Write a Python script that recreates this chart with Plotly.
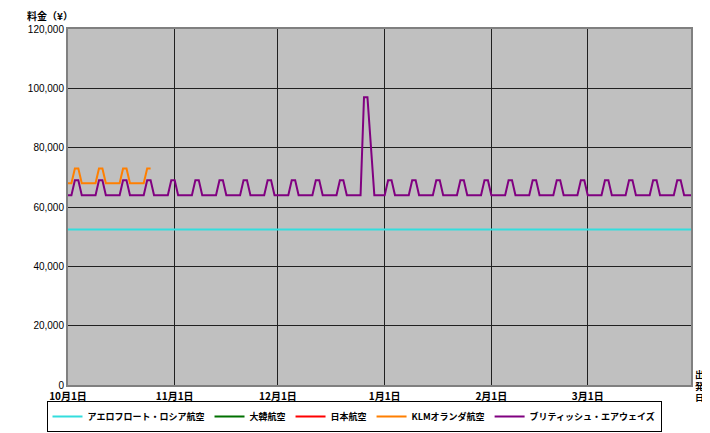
import plotly.graph_objects as go
import pandas as pd

# ---- data (daily fares, 2008-10-01 .. 2009-03-31) ----
start_date = "2008-10-01"
month_ticks = ["2008-10-01", "2008-11-01", "2008-12-01", "2009-01-01", "2009-02-01", "2009-03-01"]
month_labels = ["10月1日", "11月1日", "12月1日", "1月1日", "2月1日", "3月1日"]
y_ticks = [0, 20000, 40000, 60000, 80000, 100000, 120000]
y_labels = ["0", "20,000", "40,000", "60,000", "80,000", "100,000", "120,000"]

# アエロフロート・ロシア航空: flat fare
aeroflot = [52400] * 182

# 大韓航空 / 日本航空: no visible data
korean = [None]
jal = [None]

# KLMオランダ航空 (Oct 1 .. Oct 25)
klm = [
    68000, 68000, 73000, 73000, 68000, 68000, 68000,
    68000, 68000, 73000, 73000, 68000, 68000, 68000,
    68000, 68000, 73000, 73000, 68000, 68000, 68000,
    68000, 68000, 73000, 73000,
]

# ブリティッシュ・エアウェイズ (Oct 1 .. Mar 31), one row per week starting Wednesday
british = [
    64000, 64000, 69000, 69000, 64000, 64000, 64000,  # Oct 1
    64000, 64000, 69000, 69000, 64000, 64000, 64000,  # Oct 8
    64000, 64000, 69000, 69000, 64000, 64000, 64000,  # Oct 15
    64000, 64000, 69000, 69000, 64000, 64000, 64000,  # Oct 22
    64000, 64000, 69000, 69000, 64000, 64000, 64000,  # Oct 29
    64000, 64000, 69000, 69000, 64000, 64000, 64000,  # Nov 5
    64000, 64000, 69000, 69000, 64000, 64000, 64000,  # Nov 12
    64000, 64000, 69000, 69000, 64000, 64000, 64000,  # Nov 19
    64000, 64000, 69000, 69000, 64000, 64000, 64000,  # Nov 26
    64000, 64000, 69000, 69000, 64000, 64000, 64000,  # Dec 3
    64000, 64000, 69000, 69000, 64000, 64000, 64000,  # Dec 10
    64000, 64000, 69000, 69000, 64000, 64000, 64000,  # Dec 17
    64000, 64000, 97000, 97000, 80500, 64000, 64000,  # Dec 24
    64000, 64000, 69000, 69000, 64000, 64000, 64000,  # Dec 31
    64000, 64000, 69000, 69000, 64000, 64000, 64000,  # Jan 7
    64000, 64000, 69000, 69000, 64000, 64000, 64000,  # Jan 14
    64000, 64000, 69000, 69000, 64000, 64000, 64000,  # Jan 21
    64000, 64000, 69000, 69000, 64000, 64000, 64000,  # Jan 28
    64000, 64000, 69000, 69000, 64000, 64000, 64000,  # Feb 4
    64000, 64000, 69000, 69000, 64000, 64000, 64000,  # Feb 11
    64000, 64000, 69000, 69000, 64000, 64000, 64000,  # Feb 18
    64000, 64000, 69000, 69000, 64000, 64000, 64000,  # Feb 25
    64000, 64000, 69000, 69000, 64000, 64000, 64000,  # Mar 4
    64000, 64000, 69000, 69000, 64000, 64000, 64000,  # Mar 11
    64000, 64000, 69000, 69000, 64000, 64000, 64000,  # Mar 18
    64000, 64000, 69000, 69000, 64000, 64000, 64000,  # Mar 25
]

series_names = ["アエロフロート・ロシア航空", "大韓航空", "日本航空", "KLMオランダ航空", "ブリティッシュ・エアウェイズ"]
series_values = [aeroflot, korean, jal, klm, british]
series_colors = ["#33DDDD", "#007000", "#FF0000", "#FF7F00", "#800080"]

FONT = "Liberation Sans, Noto Sans CJK JP, sans-serif"
JFONT = "Noto Sans CJK JP, sans-serif"

# the page body has an 8px margin; size the figure so it fits the 710x433 window
W, H = 702, 425
OFF = 8
PL, PT, PR, PB = 68, 29, 691, 385  # plot area in window pixels
plot_w = PR - PL
plot_h = PB - PT

fig = go.Figure()
for name, vals, col in zip(series_names, series_values, series_colors):
    dates = pd.date_range(start_date, periods=len(vals), freq="D")
    fig.add_trace(go.Scatter(
        x=dates, y=vals, name="<b>%s</b>" % name, mode="lines",
        line=dict(color=col, width=2),
        showlegend=True,
    ))

fig.update_layout(
    width=W, height=H,
    margin=dict(l=PL - OFF, r=W - (PR - OFF), t=PT - OFF, b=H - (PB - OFF), autoexpand=False),
    paper_bgcolor="white",
    plot_bgcolor="#C0C0C0",
    font=dict(family=FONT, size=10, color="black"),
    legend=dict(
        orientation="h", xref="container", yref="container",
        x=(354 - OFF) / W, xanchor="center", y=1 - (432 - OFF) / H, yanchor="bottom",
        bordercolor="black", borderwidth=1, bgcolor="white",
        font=dict(family=JFONT, size=9, color="black"),
        itemwidth=30, tracegroupgap=0,
    ),
    xaxis=dict(
        type="date", automargin=False,
        range=["2008-10-01", "2009-03-31"],
        tickvals=month_ticks,
        ticktext=["<b>%s</b>" % t for t in month_labels],
        showgrid=True, gridcolor="#202020", gridwidth=1,
        showline=True, linecolor="#808080", linewidth=2, mirror=True,
        ticks="", zeroline=False, ticklabelstandoff=1,
        tickfont=dict(family=JFONT, size=10),
    ),
    yaxis=dict(
        range=[0, 120000], automargin=False,
        tickvals=y_ticks,
        ticktext=y_labels,
        showgrid=True, gridcolor="#202020", gridwidth=1,
        showline=True, linecolor="#808080", linewidth=2, mirror=True,
        ticks="", zeroline=False,
        tickfont=dict(family=FONT, size=10),
    ),
    annotations=[
        dict(text="<b>料金（¥）</b>", xref="paper", yref="paper",
             x=(25 - PL) / plot_w, y=1 + (PT - 15) / plot_h,
             xanchor="left", yanchor="middle", showarrow=False,
             font=dict(family=JFONT, size=10)),
        dict(text="<b>出<br>発<br>日</b>", xref="paper", yref="paper",
             x=(693 - PL) / plot_w, y=(PB - 366) / plot_h,
             xanchor="left", yanchor="top", showarrow=False,
             font=dict(family=JFONT, size=9)),
    ],
)

fig.write_html("out.html")
